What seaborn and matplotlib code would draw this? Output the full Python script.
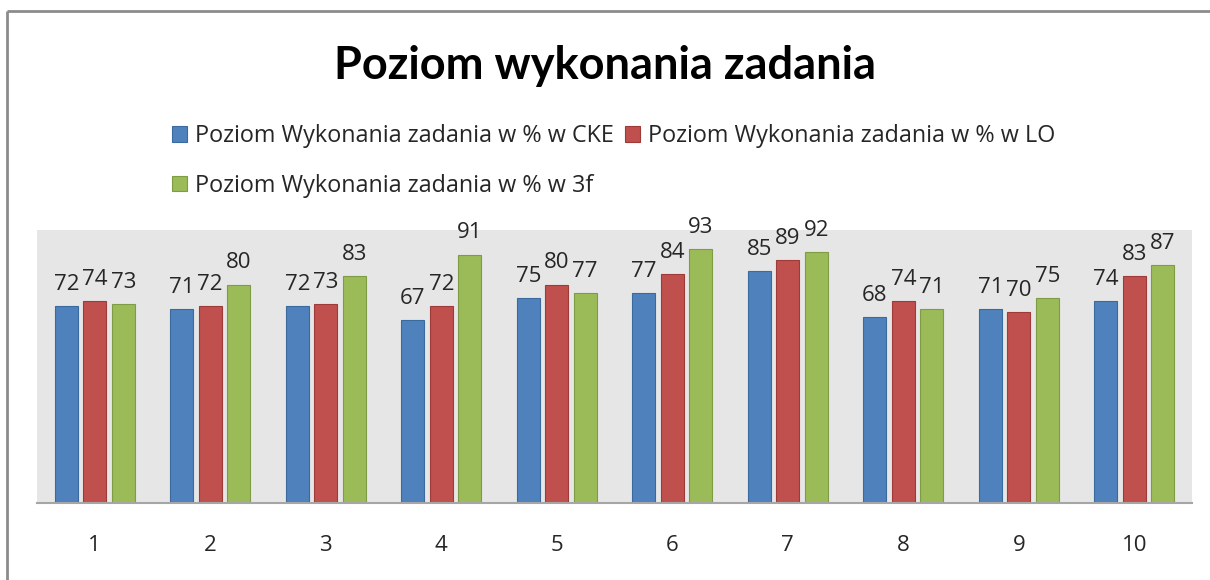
import matplotlib
matplotlib.use("Agg")
import matplotlib.pyplot as plt
from matplotlib.patches import Rectangle
from matplotlib.lines import Line2D
import pandas as pd
import seaborn as sns

# Task numbers and completion rates (%) for each group
tasks = ["1", "2", "3", "4", "5", "6", "7", "8", "9", "10"]
cke = [72, 71, 72, 67, 75, 77, 85, 68, 71, 74]
lo = [74, 72, 73, 72, 80, 84, 89, 74, 70, 83]
f3 = [73, 80, 83, 91, 77, 93, 92, 71, 75, 87]

series_names = [
    "Poziom Wykonania zadania w % w CKE",
    "Poziom Wykonania zadania w % w LO",
    "Poziom Wykonania zadania w % w 3f",
]
colors = ["#4F81BD", "#C0504D", "#9BBB59"]
edges = ["#3A6A9E", "#9E3B38", "#7E9C44"]

df = pd.DataFrame({
    "Zadanie": tasks * 3,
    "Wartość": cke + lo + f3,
    "Seria": [series_names[0]] * len(tasks)
    + [series_names[1]] * len(tasks)
    + [series_names[2]] * len(tasks),
})

sns.set_theme(style="white")
plt.rcParams["font.family"] = ["Open Sans", "DejaVu Sans"]

fig = plt.figure(figsize=(12.1, 5.8), dpi=100)
ax = fig.add_axes([37 / 1210, 77 / 580, (1192 - 37) / 1210, (503 - 230) / 580])
ax.set_facecolor("#E6E6E6")

sns.barplot(
    data=df, x="Zadanie", y="Wartość", hue="Seria",
    order=tasks, hue_order=series_names, palette=colors,
    width=0.74, gap=0.19, ax=ax, legend=False, saturation=1,
)

for cont, ec in zip(ax.containers, edges):
    for bar in cont:
        bar.set_edgecolor(ec)
        bar.set_linewidth(0.8)
    ax.bar_label(cont, fmt="%d", padding=8, fontsize=16, color="#262626")

ax.set_ylim(0, 100)
ax.set_xlim(-0.5, len(tasks) - 0.5)
ax.set_xlabel("")
ax.set_ylabel("")
ax.set_yticks([])
ax.tick_params(axis="x", length=0, labelsize=16, colors="#262626", pad=23)
for side in ["top", "right", "left"]:
    ax.spines[side].set_visible(False)
ax.spines["bottom"].set_color("#A6A6A6")
ax.spines["bottom"].set_linewidth(1.5)

fig.text(0.5, 1 - 66 / 580, "Poziom wykonania zadania", ha="center", va="center",
         fontsize=32.5, fontweight="bold", color="black", family=["Lato", "DejaVu Sans"])

# Legend laid out row by row: CKE, LO on the first row, 3f on the second
handles = [Rectangle((0, 0), 1, 1, facecolor=c, edgecolor=e, linewidth=0.8)
           for c, e in zip(colors, edges)]
order = [0, 2, 1]
fig.legend([handles[i] for i in order], [series_names[i] for i in order],
           ncol=2, loc="upper left", bbox_to_anchor=(172 / 1210, 1 - 124 / 580),
           frameon=False, fontsize=16.8, handlelength=0.65, handleheight=0.65,
           handletextpad=0.35, columnspacing=0.45, labelspacing=1.1,
           borderaxespad=0, borderpad=0, labelcolor="#262626")

# Chart frame (only its top and left edges fall inside the image)
y_top = 1 - 11 / 580
x_left = 7 / 1210
for xs, ys in [([x_left, 1.0], [y_top, y_top]), ([x_left, x_left], [0.0, y_top])]:
    fig.add_artist(Line2D(xs, ys, transform=fig.transFigure,
                          color="#8C8C8C", linewidth=2, solid_capstyle="butt"))

fig.savefig("out.png", dpi=100)
